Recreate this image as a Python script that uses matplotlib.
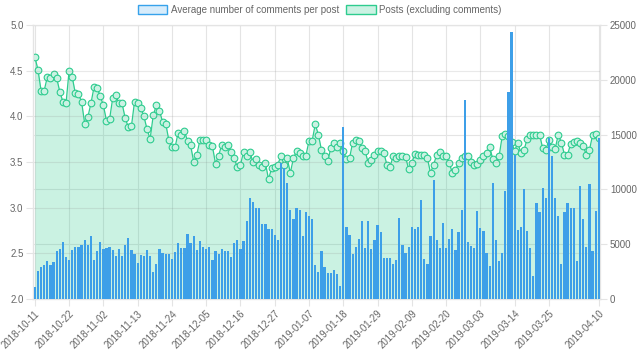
import matplotlib.pyplot as plt
from matplotlib.patches import Patch
import numpy as np
import pandas as pd

plt.rcParams["font.family"] = ["Liberation Sans", "DejaVu Sans"]

# daily categories, 2018-10-11 .. 2019-04-10
dates = pd.date_range("2018-10-11", "2019-04-10", freq="D").strftime("%Y-%m-%d").tolist()

# Average number of comments per post (left axis)
avg_comments = [
    2.13, 2.31, 2.35, 2.37, 2.41, 2.37, 2.40, 2.52, 2.55, 2.62,
    2.46, 2.43, 2.54, 2.57, 2.57, 2.59, 2.65, 2.59, 2.69, 2.43,
    2.52, 2.62, 2.55, 2.56, 2.57, 2.54, 2.47, 2.55, 2.47, 2.59,
    2.67, 2.54, 2.49, 2.39, 2.48, 2.47, 2.54, 2.47, 2.30, 2.38,
    2.55, 2.50, 2.49, 2.49, 2.44, 2.51, 2.61, 2.56, 2.56, 2.71,
    2.61, 2.69, 2.54, 2.63, 2.57, 2.55, 2.57, 2.43, 2.52, 2.49,
    2.55, 2.53, 2.53, 2.46, 2.61, 2.65, 2.55, 2.63, 2.85, 3.10,
    3.06, 2.99, 3.00, 2.82, 2.82, 2.77, 2.77, 2.70, 2.65, 3.49,
    3.43, 3.27, 2.97, 2.87, 3.00, 2.97, 2.69, 2.95, 2.91, 2.88,
    2.37, 2.29, 2.52, 2.35, 2.28, 2.28, 2.32, 2.27, 2.14, 3.88,
    2.79, 2.70, 2.49, 2.57, 2.66, 2.85, 2.56, 2.85, 2.55, 2.65,
    2.81, 2.73, 2.45, 2.45, 2.45, 2.38, 2.43, 2.89, 2.59, 2.50,
    2.57, 2.79, 2.77, 2.79, 3.08, 2.44, 2.38, 2.69, 3.30, 2.64,
    2.56, 2.83, 2.56, 2.66, 2.77, 2.54, 2.73, 2.97, 4.18, 2.62,
    2.58, 2.56, 2.96, 2.78, 2.74, 2.50, 2.36, 3.27, 2.65, 2.42,
    2.50, 3.18, 4.27, 4.92, 3.58, 2.75, 2.79, 3.20, 2.74, 2.56,
    2.25, 3.05, 2.95, 3.21, 3.10, 3.76, 3.57, 3.11, 2.91, 2.38,
    2.95, 3.05, 2.99, 2.99, 2.41, 3.24, 2.88, 2.57, 3.26, 2.53,
    2.96, 3.76,
]

# Posts (excluding comments) (right axis)
posts = [
    22080, 20920, 19000, 19000, 20250, 20170, 20500, 20170, 18920, 18000,
    17830, 20830, 20250, 18750, 18670, 18000, 16000, 16580, 17830, 19330,
    19250, 18500, 17670, 16250, 16420, 18330, 18580, 17830, 17830, 16500,
    15670, 15750, 18000, 17920, 17420, 16670, 15500, 14580, 16750, 17670,
    17170, 16170, 16000, 14500, 13830, 13830, 15170, 15000, 15330, 14420,
    14000, 12500, 13170, 14500, 14500, 14500, 14080, 13920, 12330, 13080,
    14080, 13830, 14080, 13420, 12830, 12000, 12250, 13420, 13000, 13420,
    12500, 12750, 12250, 12000, 12420, 10920, 11920, 12080, 12250, 13080,
    12250, 12830, 11500, 12830, 13500, 13330, 13080, 13080, 14420, 14420,
    15920, 15000, 13580, 13000, 12580, 13750, 14250, 13830, 14250, 13500,
    12750, 12830, 14250, 14500, 14420, 13750, 13500, 12420, 12670, 13170,
    13500, 13500, 13330, 12250, 12080, 13000, 12830, 13000, 13000, 12920,
    11830, 12420, 13250, 13170, 13170, 13170, 12830, 11500, 12250, 13170,
    13420, 13000, 13000, 12420, 11500, 11750, 12420, 12830, 13000, 13000,
    12500, 12250, 12330, 12670, 13000, 13330, 13830, 12750, 12420, 13000,
    14830, 15080, 14830, 14330, 13500, 14250, 13330, 13580, 14580, 15000,
    15000, 15000, 15000, 13750, 13580, 14500, 13830, 13670, 15000, 14250,
    13170, 13170, 14170, 14330, 14420, 14250, 13920, 13170, 13580, 14920,
    15080, 14670,
]

tick_idx = list(range(0, 166, 11)) + [181]

blue = "#36a2eb"
green = "#2ecc8f"
grid_c = "#e4e4e4"
text_c = "#666666"

fig = plt.figure(figsize=(6.4, 3.61), dpi=100)
ax_posts = fig.add_axes([0.052, 0.172, 0.886, 0.759])
ax_avg = ax_posts.twinx()

x = np.arange(len(dates))

# posts: filled line with hollow markers
ax_posts.fill_between(x, posts, 0, color=green, alpha=0.25, lw=0, zorder=1)
ax_posts.plot(x, posts, color=green, lw=0.9, marker="o", ms=4.8,
              mfc="#cbf2e3", mec=green, mew=0.8, zorder=2)
ax_posts.set_ylim(0, 25000)
ax_posts.set_yticks(range(0, 25001, 5000))
ax_posts.yaxis.set_ticks_position("right")
ax_posts.set_axisbelow(True)
ax_posts.grid(True, color=grid_c, lw=0.8)

# average comments: thin bars
ax_avg.bar(x, avg_comments, width=0.72, color="#3d9fe8", lw=0, zorder=3)
ax_avg.set_ylim(2.0, 5.0)
ax_avg.set_yticks(np.arange(2.0, 5.01, 0.5))
ax_avg.set_yticklabels([f"{v:.1f}" for v in np.arange(2.0, 5.01, 0.5)])
ax_avg.yaxis.set_ticks_position("left")
ax_avg.set_axisbelow(True)
ax_avg.yaxis.grid(True, color="#888888", alpha=0.18, lw=0.8)

ax_posts.set_xlim(-0.5, len(dates) - 0.5)
ax_posts.set_xticks(tick_idx)
ax_posts.set_xticklabels([dates[i] for i in tick_idx], rotation=45,
                         ha="right", rotation_mode="anchor")

for a in (ax_posts, ax_avg):
    a.tick_params(colors=grid_c, labelcolor=text_c, labelsize=7, length=5,
                  width=0.8, pad=2)
    for s in a.spines.values():
        s.set_color(grid_c)
        s.set_linewidth(0.8)
ax_posts.spines["left"].set_color("#cccccc")
ax_posts.spines["bottom"].set_color("#cccccc")

handles = [
    Patch(facecolor="#d7ecfb", edgecolor=blue, lw=1),
    Patch(facecolor="#cbf2e3", edgecolor=green, lw=1),
]
fig.legend(handles, ["Average number of comments per post", "Posts (excluding comments)"],
           loc="upper center", bbox_to_anchor=(0.5, 1.01), ncol=2, frameon=False,
           fontsize=7, labelcolor=text_c, handlelength=3.0, handleheight=1.0,
           columnspacing=0.7, handletextpad=0.4)

fig.savefig("out.png", dpi=100)
